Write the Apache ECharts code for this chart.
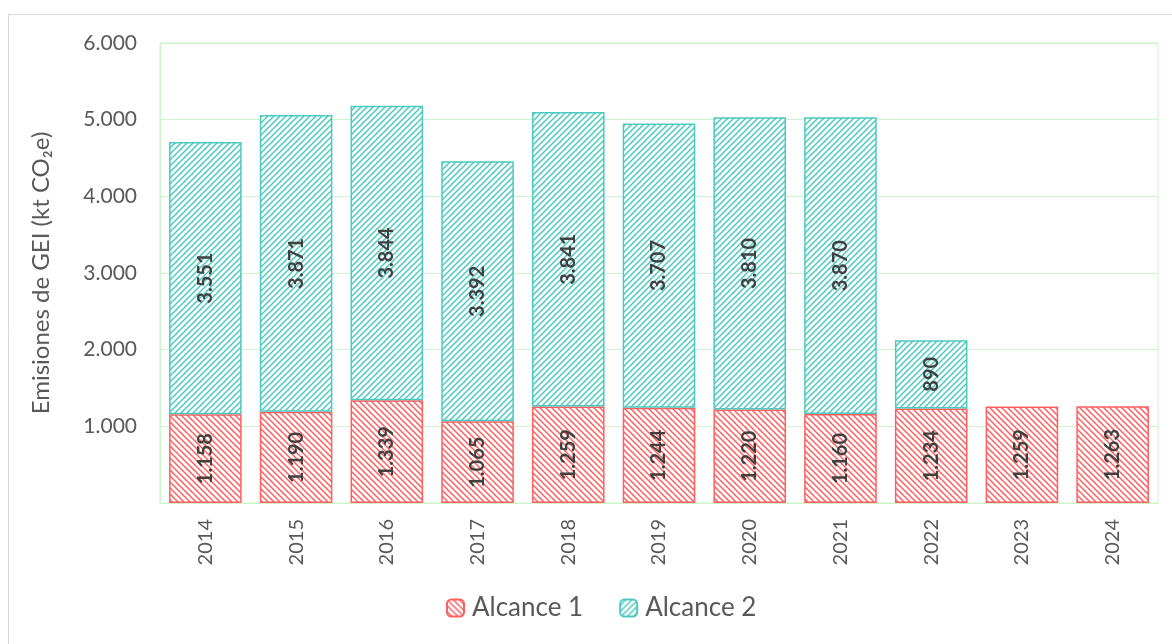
<!DOCTYPE html>
<html>
<head>
<meta charset="utf-8">
<script src="https://cdn.jsdelivr.net/npm/echarts@6/dist/echarts.min.js"></script>
<style>
html,body{margin:0;padding:0;background:#fff;}
#chart{width:1172px;height:644px;}
</style>
</head>
<body>
<div id="chart"></div>
<script>
var years = ['2014','2015','2016','2017','2018','2019','2020','2021','2022','2023','2024'];
var alcance1 = [1158, 1190, 1339, 1065, 1259, 1244, 1220, 1160, 1234, 1259, 1263];
var alcance2 = [3551, 3871, 3844, 3392, 3841, 3707, 3810, 3870, 890, null, null];
var yTicks = [0, 1000, 2000, 3000, 4000, 5000, 6000];

var FONT = 'Lato, "Open Sans", sans-serif';

// patron de rayas diagonales
function makeHatch(color, back){
	var c = document.createElement('canvas');
	c.width = 6; c.height = 6;
	var ctx = c.getContext('2d');
	ctx.fillStyle = '#fff';
	ctx.fillRect(0,0,6,6);
	ctx.strokeStyle = color;
	ctx.lineWidth = 1.5;
	ctx.beginPath();
	if(back){
		ctx.moveTo(-1,-1); ctx.lineTo(7,7);
		ctx.moveTo(-4,2); ctx.lineTo(4,10);
		ctx.moveTo(2,-4); ctx.lineTo(10,4);
	}else{
		ctx.moveTo(-1,7); ctx.lineTo(7,-1);
		ctx.moveTo(-4,4); ctx.lineTo(4,-4);
		ctx.moveTo(2,10); ctx.lineTo(10,2);
	}
	ctx.stroke();
	return c;
}

function fmt(v){
	return String(v).replace(/\B(?=(\d{3})+(?!\d))/g, '.');
}

var red = '#ff5f5f';
var teal = '#4cc9c0';

var labelStyle = {
	show: true,
	position: 'inside',
	rotate: 90,
	color: '#404040',
	fontWeight: 'bold',
	fontSize: 20,
	fontFamily: FONT,
	formatter: function(p){ return p.value == null ? '' : fmt(p.value); }
};

var myChart = echarts.init(document.getElementById('chart'));
var option = {
	animation: false,
	graphic: [{
		type: 'rect',
		shape: {x: 8.5, y: 14.5, width: 1200, height: 700},
		style: {fill: 'none', stroke: '#d9d9d9', lineWidth: 1},
		silent: true
	}],
	grid: {
		left: 160, right: 14, top: 43, bottom: 141,
		show: true, borderColor: '#ccf5cc', borderWidth: 1
	},
	legend: {
		bottom: 18,
		left: 441,
		itemWidth: 17, itemHeight: 17,
		itemGap: 36,
		textStyle: {fontSize: 26, color: '#595959', fontFamily: FONT, padding: [0, 0, 0, 3]},
		data: ['Alcance 1', 'Alcance 2']
	},
	xAxis: {
		type: 'category',
		data: years,
		axisLine: {lineStyle: {color: '#ccf5cc'}},
		axisTick: {show: false},
		axisLabel: {rotate: 90, fontSize: 20, color: '#595959', fontFamily: FONT, margin: 16}
	},
	yAxis: {
		type: 'value',
		min: 0, max: 6000, interval: 1000,
		name: 'Emisiones de GEI (kt CO\u2082e)',
		nameLocation: 'middle',
		nameGap: 107,
		nameTextStyle: {fontSize: 24, color: '#595959', fontFamily: FONT},
		axisLine: {show: true, lineStyle: {color: '#ccf5cc'}},
		axisTick: {show: false},
		splitLine: {lineStyle: {color: '#ccf5cc'}},
		axisLabel: {
			fontSize: 21, color: '#595959', fontFamily: FONT, margin: 23,
			formatter: function(v){ return v === 0 ? '' : fmt(v); }
		}
	},
	series: [{
		name: 'Alcance 1',
		type: 'bar',
		stack: 'total',
		barWidth: '80%',
		data: alcance1,
		itemStyle: {color: {image: makeHatch(red, true), repeat: 'repeat'}, borderColor: red, borderWidth: 1.5},
		label: labelStyle
	}, {
		name: 'Alcance 2',
		type: 'bar',
		stack: 'total',
		data: alcance2,
		itemStyle: {color: {image: makeHatch(teal, false), repeat: 'repeat'}, borderColor: teal, borderWidth: 1.5},
		label: labelStyle
	}]
};
myChart.setOption(option);
</script>
</body>
</html>
